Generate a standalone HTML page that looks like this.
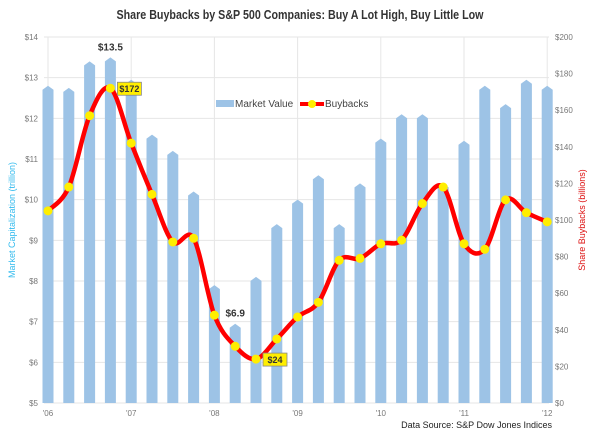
<!DOCTYPE html>
<html><head><meta charset="utf-8"><style>
body{margin:0;background:#fff;font-family:"Liberation Sans",sans-serif}
svg text{font-family:"Liberation Sans",sans-serif}
</style></head><body>
<svg id="c" width="600" height="438" viewBox="0 0 600 438">
<text x="300" y="19" text-anchor="middle" font-size="13" font-weight="bold" fill="#333" textLength="367" lengthAdjust="spacingAndGlyphs">Share Buybacks by S&amp;P 500 Companies: Buy A Lot High, Buy Little Low</text>
<g id="grid"></g><g id="bars"></g><g id="line"></g><g id="axes"></g>
<text transform="translate(15,220) rotate(-90)" text-anchor="middle" font-size="9" fill="#33bbee">Market Capitalization (trillion)</text>
<text transform="translate(585,220) rotate(-90)" text-anchor="middle" font-size="9" fill="#dd1111">Share Buybacks (billions)</text>
<text x="552" y="428" text-anchor="end" font-size="9" fill="#222">Data Source: S&amp;P Dow Jones Indices</text>
<g>
<rect x="216" y="100" width="18" height="7" fill="#9dc3e6"/>
<text x="235" y="107" font-size="10" fill="#444">Market Value</text>
<line x1="300" y1="104" x2="324" y2="104" stroke="red" stroke-width="4"/>
<circle cx="312" cy="104" r="4" fill="#ffee00"/>
<text x="325" y="107" font-size="10" fill="#444">Buybacks</text>
</g>
</svg>
<script>
const marketValue=[12.8,12.75,13.4,13.5,12.95,11.6,11.2,10.2,7.9,6.95,8.1,9.4,10.0,10.6,9.4,10.4,11.5,12.1,12.1,10.4,11.45,12.8,12.35,12.95,12.8];
const buybacks=[105,118,157,172,142,114,88,90,48,31,24,35,47,55,78,79,87,89,109,118,87,84,111,104,99];
const leftTicks=[5,6,7,8,9,10,11,12,13,14];
const rightTicks=[0,20,40,60,80,100,120,140,160,180,200];
const yearLabels=["'06","'07","'08","'09","'10","'11","'12"];
const NS="http://www.w3.org/2000/svg";
const X0=48,DX=20.8,TOP=37,BOT=403;
const x=i=>X0+i*DX;
const yL=v=>BOT-(v-5)/9*(BOT-TOP);
const yR=v=>BOT-v/200*(BOT-TOP);
function mk(t,a,p){const e=document.createElementNS(NS,t);for(const k in a)e.setAttribute(k,a[k]);p.appendChild(e);return e;}
const grid=document.getElementById('grid'),axes=document.getElementById('axes'),bars=document.getElementById('bars'),line=document.getElementById('line');
leftTicks.forEach(v=>{const l=mk('line',{x1:44,x2:549,y1:yL(v),y2:yL(v),stroke:'#e6e6e6'},grid);


const t=mk('text',{x:38,y:yL(v)+3,'text-anchor':'end','font-size':8,fill:'#777'},axes);t.textContent='$'+v;

});
rightTicks.forEach(v=>{const t=mk('text',{x:555,y:yR(v)+3,'font-size':8,fill:'#777'},axes);t.textContent='$'+v;

});
yearLabels.forEach((s,k)=>{const xx=x(k*4);const l=mk('line',{x1:xx,x2:xx,y1:TOP,y2:BOT,stroke:'#e6e6e6'},grid);


const t=mk('text',{x:xx,y:416,'text-anchor':'middle','font-size':8,fill:'#777'},axes);t.textContent=s;

});
marketValue.forEach((v,i)=>{const cx=x(i),w=5.5,yt=yL(v);
const b=mk('path',{d:`M${cx-w},${BOT}V${yt+4}L${cx},${yt}L${cx+w},${yt+4}V${BOT}Z`,fill:'#9dc3e6'},bars);

});
const pts=buybacks.map((v,i)=>[x(i),yR(v)]);
let d=`M${pts[0][0]},${pts[0][1]}`;
for(let i=0;i<pts.length-1;i++){const p0=pts[i-1]||pts[i],p1=pts[i],p2=pts[i+1],p3=pts[i+2]||p2;
d+=`C${p1[0]+(p2[0]-p0[0])/6},${p1[1]+(p2[1]-p0[1])/6} ${p2[0]-(p3[0]-p1[0])/6},${p2[1]-(p3[1]-p1[1])/6} ${p2[0]},${p2[1]}`;}
const pl=mk('path',{d,fill:'none',stroke:'red','stroke-width':4.5,'stroke-linejoin':'round'},line);


pts.forEach(p=>{const c=mk('circle',{cx:p[0],cy:p[1],r:4.5,fill:'#ffee00'},line);

});
function callout(i,txt){const px=x(i)+7,py=yR(buybacks[i])-6;
const r=mk('rect',{x:px,y:py,width:24,height:13,fill:'#ffee00',stroke:'#888','stroke-width':0.8},line);


const t=mk('text',{x:px+12,y:py+10,'text-anchor':'middle','font-size':9,'font-weight':'bold',fill:'#333'},line);t.textContent=txt;

}
callout(3,'$172');callout(10,'$24');
function mlabel(i,txt){const t=mk('text',{x:x(i),y:yL(marketValue[i])-7,'text-anchor':'middle','font-size':10,'font-weight':'bold',fill:'#333'},line);t.textContent=txt;

}
mlabel(3,'$13.5');mlabel(9,'$6.9');
</script>
</body></html>
